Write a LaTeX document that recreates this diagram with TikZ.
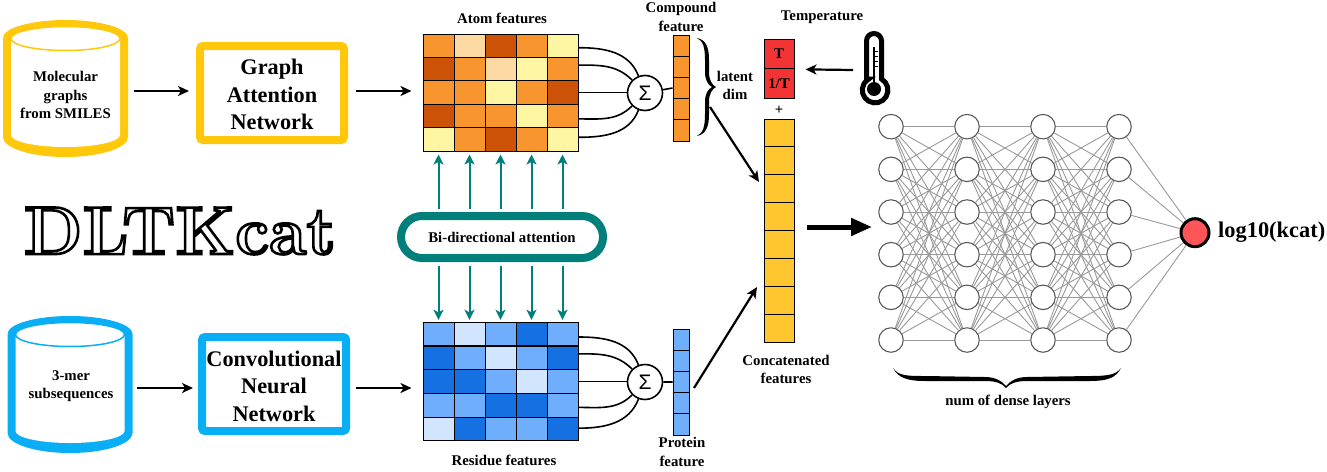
\documentclass[tikz,border=0pt]{standalone}
\usepackage{fontspec}
\setmainfont{Liberation Serif}
\newfontfamily\logofont{Latin Modern Roman}
\newfontfamily\sumfont{Liberation Sans}
\usetikzlibrary{arrows.meta}

\definecolor{gold}{HTML}{FFC80A}
\definecolor{sky}{HTML}{0AAEF5}
\definecolor{tealc}{HTML}{007F7B}
\definecolor{orgD}{HTML}{CC5208}
\definecolor{orgM}{HTML}{F8952F}
\definecolor{orgL}{HTML}{FDD9A3}
\definecolor{orgY}{HTML}{FFF6A3}
\definecolor{bluD}{HTML}{1570E2}
\definecolor{bluM}{HTML}{6FAEFC}
\definecolor{bluL}{HTML}{D2E5FF}
\definecolor{concc}{HTML}{FFC62F}
\definecolor{tempc}{HTML}{F23434}
\definecolor{outc}{HTML}{FF5558}

\tikzset{
    lbl/.style={font=\bfseries\fontsize{14.8}{18.2}\selectfont,align=center,inner sep=0pt},
    biglbl/.style={font=\bfseries\fontsize{22.3}{27.6}\selectfont,align=center,inner sep=0pt},
    netbox/.style={draw=#1,line width=8pt,rounded corners=3pt,minimum width=144pt,minimum height=94pt,inner sep=0pt},
    cell/.style={draw=black,line width=1pt,fill=#1,minimum width=31pt,minimum height=23.4pt,inner sep=0pt},
    vcell/.style={draw=black,line width=1pt,fill=#1,minimum width=16pt,minimum height=21.2pt,inner sep=0pt},
    bcell/.style={draw=black,line width=1pt,fill=#1,minimum width=30pt,minimum height=27.9pt,inner sep=0pt},
    sumnode/.style={circle,draw=black,line width=1.6pt,fill=white,minimum size=35pt,inner sep=0pt,font=\sumfont\fontsize{21}{21}\selectfont},
    flow/.style={line width=2.2pt,-{Stealth[length=11pt,width=10pt,inset=3pt]}},
    attn/.style={tealc,line width=2pt,-{Stealth[length=10pt,width=10pt,inset=2.5pt]}},
    wire/.style={line width=1.6pt},
    neuron/.style={circle,draw=black!65,line width=1.1pt,fill=white,minimum size=24.5pt,inner sep=0pt},
    edgeline/.style={black!40,line width=0.9pt}
}

% database barrel
\newcommand{\drumcyl}[3]{
    \begin{scope}[shift={(#1,#2)}]
        \fill[#3] (3,38) arc[start angle=180,end angle=0,x radius=62.5pt,y radius=18pt] -- (128,137) arc[start angle=0,end angle=-180,x radius=62.5pt,y radius=20pt] -- cycle;
        \fill[white] (11,38) -- (120,38) -- (120,135) arc[start angle=0,end angle=-180,x radius=54.5pt,y radius=12pt] -- cycle;
        \draw[#3,line width=1.5pt,fill=white] (65.5,38.5) ellipse[x radius=54.5pt,y radius=12pt];
    \end{scope}
}

\begin{document}
\begin{tikzpicture}[x=1pt,y=-1pt]
    \useasboundingbox (0,0) rectangle (1327,471);

    % barrels
    \drumcyl{0}{0}{gold}
    \drumcyl{4.5}{296}{sky}
    \node[lbl] (mol) at (65.5,95) {Molecular\\graphs\\from SMILES};
    \node[lbl] (mer) at (71,386.5) {3-mer\\subsequences};

    % boxes
    \node[netbox=gold] (gat) at (272,93) {};
    \node[biglbl] (gattxt) at (272,94.5) {Graph\\Attention\\Network};
    \node[netbox=sky] (cnn) at (274,384) {};
    \node[biglbl] (cnntxt) at (274,386) {Convolutional\\Neural\\Network};

    % title
    \node[inner sep=0pt] (title) at (180,231) {\logofont\bfseries\fontsize{68}{68}\selectfont\special{pdf:code 1 Tr 2.6 w}DLTKcat\special{pdf:code 0 Tr}};

    % atom matrix
    \foreach \rowcols [count=\r] in {{orgM,orgL,orgD,orgM,orgY},{orgD,orgM,orgL,orgY,orgM},{orgM,orgM,orgY,orgM,orgD},{orgD,orgM,orgM,orgY,orgM},{orgY,orgM,orgD,orgM,orgY}}
        \foreach \colr [count=\k] in \rowcols
            \node[cell=\colr] (atom\r\k) at ({407.5+31*\k},{22.3+23.4*\r}) {};

    % residue matrix
    \foreach \rowcols [count=\r] in {{bluM,bluL,bluM,bluD,bluM},{bluD,bluM,bluL,bluM,bluD},{bluD,bluD,bluM,bluL,bluM},{bluM,bluM,bluD,bluD,bluM},{bluL,bluD,bluM,bluM,bluD}}
        \foreach \colr [count=\k] in \rowcols
            \node[cell=\colr] (res\r\k) at ({407.5+31*\k},{310.2+23.8*\r}) {};

    \node[lbl] (atomtxt) at (502,18) {Atom features};
    \node[lbl] (restxt) at (504,460) {Residue features};

    % attention
    \node[draw=tealc,line width=8pt,rounded corners=21pt,minimum width=202pt,minimum height=42pt,lbl] (pill) at (502,237) {Bi-directional attention};
    \foreach \k in {1,...,5} {
        \draw[attn,shorten <=3pt,shorten >=3pt] (atom5\k.south |- pill.north) -- (atom5\k.south);
        \draw[attn,shorten <=4pt,shorten >=2pt] (res1\k.north |- pill.south) -- (res1\k.north);
    }

    % sums
    \node[sumnode] (sumA) at (645,93) {Σ};
    \node[sumnode] (sumB) at (645,382) {Σ};

    % vectors
    \foreach \i in {1,...,5} {
        \node[vcell=orgM] (comp\i) at (681,{24.4+21.2*\i}) {};
        \node[vcell=bluM] (prot\i) at (681,{318.4+21.2*\i}) {};
    }
    \node[lbl] (comptxt) at (681,17) {Compound\\feature};
    \node[lbl] (prottxt) at (682,452) {Protein\\feature};

    % wires
    \draw[wire] ([yshift=-2pt]atom15.east) to[out=0,in=111] (sumA.111);
    \draw[wire] ([yshift=4pt]atom25.east) to[out=0,in=135] (sumA.135);
    \draw[wire] (atom35.east) -- (sumA.west |- atom35.east);
    \draw[wire] ([yshift=-3pt]atom45.east) to[out=0,in=225] (sumA.225);
    \draw[wire] ([yshift=2pt]atom55.east) to[out=0,in=249] (sumA.249);
    \draw[wire] (sumA) -- (comp3.west);
    \draw[wire] ([yshift=-3pt]res15.east) to[out=0,in=111] (sumB.111);
    \draw[wire] ([yshift=4pt]res25.east) to[out=0,in=135] (sumB.135);
    \draw[wire] (res35.east) -- (sumB.west |- res35.east);
    \draw[wire] ([yshift=-2pt]res45.east) to[out=0,in=225] (sumB.225);
    \draw[wire] ([yshift=1pt]res55.east) to[out=0,in=249] (sumB.249);
    \draw[wire] (sumB) -- (prot3.west);

    % latent brace
    \fill (697,38) .. controls (706,40) and (709,47) .. (709,60) -- (709,72) .. controls (709,80) and (712,85) .. (716,87)
        .. controls (712,89) and (709,94) .. (709,102) -- (709,114) .. controls (709,127) and (706,134) .. (697,136)
        .. controls (703,133) and (705,127) .. (705,114) -- (705,102) .. controls (705,94) and (708,89) .. (712,87)
        .. controls (708,85) and (705,80) .. (705,72) -- (705,60) .. controls (705,47) and (703,41) .. (697,38) -- cycle;
    \node[lbl] (latent) at (735,85.5) {latent\\dim};

    % temperature
    \node[lbl] (temptxt) at (822,17) {Temperature};
    \node[draw=black,line width=1pt,fill=tempc,minimum width=30pt,minimum height=29.5pt,inner sep=0pt,lbl] (tempA) at (779,54) {T};
    \node[draw=black,line width=1pt,fill=tempc,minimum width=30pt,minimum height=29.5pt,inner sep=0pt,lbl] (tempB) at (779,83.5) {1/T};
    \node[lbl] (plus) at (779,110) {+};

    % thermometer
    \draw[line width=5pt,fill=white] (866.5,79) -- (866.5,41) arc[start angle=180,end angle=0,x radius=7.5pt,y radius=7.5pt] -- (881.5,79) arc[start angle=60,end angle=-240,radius=12.8pt] -- cycle;
    \fill (874,89) circle (7pt);
    \draw[line width=2.4pt] (874,47) -- (874,89);
    \foreach \yy in {51,56,61,66} {
        \draw[line width=0.7pt] (875,\yy) -- (878,\yy);
    }
    \coordinate (thermo) at (853,70);
    \draw[flow] (thermo) -- (tempA.south east) [shorten >=11pt];

    % concatenated
    \foreach \i in {1,...,8} {
        \node[bcell=concc] (conc\i) at (779,{105.05+27.9*\i}) {};
    }
    \node[lbl] (conctxt) at (786,369.5) {Concatenated\\features};
    \coordinate (latentend) at (710,107);
    \coordinate (concinA) at (759,182);
    \coordinate (protout) at (694,388);
    \coordinate (concinB) at (757,287);
    \draw[flow] (latentend) -- (concinA);
    \draw[flow] (protout) -- (concinB);

    % flow arrows
    \coordinate (molout) at (134,91);
    \coordinate (merout) at (137,388);
    \draw[flow,shorten >=7pt] (molout) -- (gat.west |- molout);
    \draw[flow,shorten <=8pt,shorten >=11pt] (gat.east |- molout) -- (atom31.west |- molout);
    \draw[flow,shorten >=5pt] (merout) -- (cnn.west |- merout);
    \draw[flow,shorten <=6pt,shorten >=11pt] (cnn.east |- merout) -- (res31.west |- merout);

    % network
    \foreach \c/\cx in {1/891,2/967,3/1043,4/1119}
        \foreach \r in {1,...,6}
            \node[neuron] (n\c\r) at (\cx,{84+42.67*\r}) {};
    \node[circle,draw=black,line width=3pt,fill=outc,minimum size=28pt,inner sep=0pt] (out) at (1195,232.7) {};
    \foreach \c/\d in {1/2,2/3,3/4}
        \foreach \r in {1,...,6}
            \foreach \s in {1,...,6}
                \draw[edgeline] (n\c\r) -- (n\d\s);
    \foreach \r in {1,...,6}
        \draw[edgeline] (n4\r) -- (out);
    \node[font=\bfseries\fontsize{22.4}{24}\selectfont,inner sep=0pt,anchor=west] (outtxt) at (1218,232) {log10(kcat)};

    \coordinate (netout) at (807,227);
    \coordinate (netin) at (872,227);
    \draw[line width=5pt,-{Stealth[length=21pt,width=17pt,inset=0pt]}] (netout) -- (netin);

    % dense brace
    \fill (893,368) .. controls (898,376) and (908,376) .. (925,376) -- (985,377) .. controls (995,377) and (1002,381) .. (1006,386)
        .. controls (1010,381) and (1017,377) .. (1027,377) -- (1090,376) .. controls (1107,376) and (1116,375) .. (1121,368)
        .. controls (1116,378) and (1107,381) .. (1090,381) -- (1027,381) .. controls (1017,381) and (1010,383) .. (1006,388)
        .. controls (1002,383) and (995,381) .. (985,381) -- (925,381) .. controls (908,381) and (898,378) .. (893,368) -- cycle;
    \node[lbl] (densetxt) at (1008,402) {num of dense layers};
\end{tikzpicture}
\end{document}
